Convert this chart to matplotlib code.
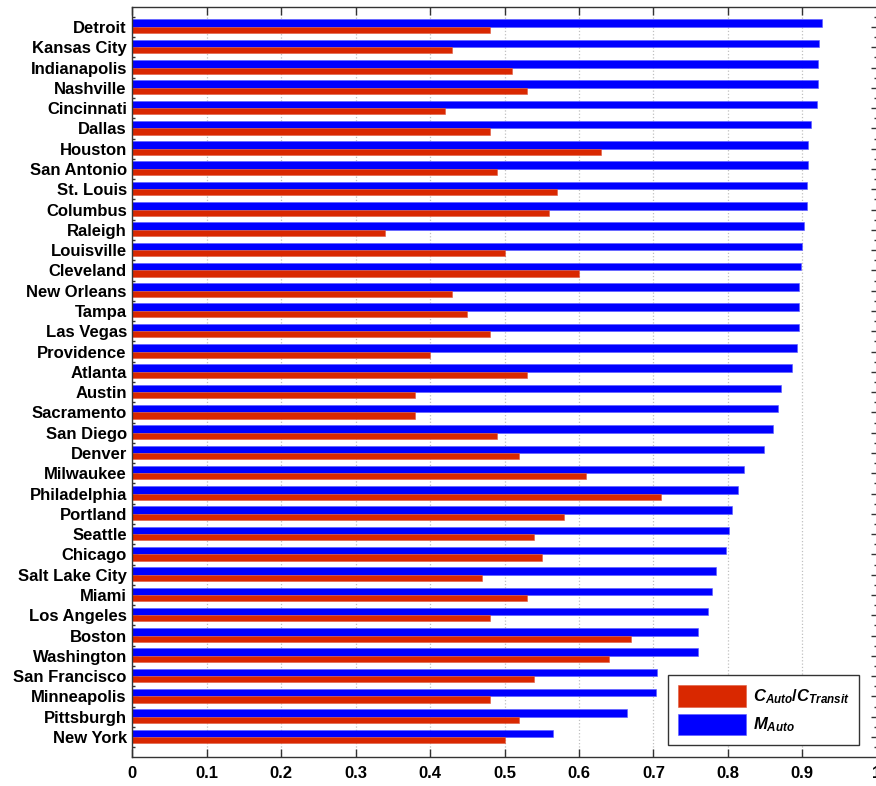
import numpy as np
import matplotlib
matplotlib.use('Agg')
import matplotlib.pyplot as plt
from matplotlib.ticker import FixedLocator

plt.rcParams['font.family'] = ['Liberation Sans', 'DejaVu Sans']
plt.rcParams['font.weight'] = 'bold'
plt.rcParams['mathtext.fontset'] = 'custom'
plt.rcParams['mathtext.it'] = 'Liberation Sans:italic:bold'
plt.rcParams['mathtext.rm'] = 'Liberation Sans:bold'

# cities, listed top to bottom
cities = ['Detroit', 'Kansas City', 'Indianapolis', 'Nashville', 'Cincinnati',
          'Dallas', 'Houston', 'San Antonio', 'St. Louis', 'Columbus', 'Raleigh',
          'Louisville', 'Cleveland', 'New Orleans', 'Tampa', 'Las Vegas',
          'Providence', 'Atlanta', 'Austin', 'Sacramento', 'San Diego', 'Denver',
          'Milwaukee', 'Philadelphia', 'Portland', 'Seattle', 'Chicago',
          'Salt Lake City', 'Miami', 'Los Angeles', 'Boston', 'Washington',
          'San Francisco', 'Minneapolis', 'Pittsburgh', 'New York']

# auto mode share
m_auto = [0.927, 0.922, 0.921, 0.921, 0.919, 0.911, 0.908, 0.908, 0.906,
          0.906, 0.902, 0.899, 0.898, 0.896, 0.896, 0.896, 0.893, 0.886,
          0.871, 0.867, 0.861, 0.848, 0.821, 0.813, 0.806, 0.801, 0.797,
          0.784, 0.779, 0.773, 0.760, 0.760, 0.705, 0.704, 0.665, 0.565]

# auto cost / transit cost
cost_ratio = [0.48, 0.43, 0.51, 0.53, 0.42, 0.48, 0.63, 0.49, 0.57,
              0.56, 0.34, 0.50, 0.60, 0.43, 0.45, 0.48, 0.40, 0.53,
              0.38, 0.38, 0.49, 0.52, 0.61, 0.71, 0.58, 0.54, 0.55,
              0.47, 0.53, 0.48, 0.67, 0.64, 0.54, 0.48, 0.52, 0.50]

xticks = [0, 0.1, 0.2, 0.3, 0.4, 0.5, 0.6, 0.7, 0.8, 0.9, 1]
xticklabels = ['0', '0.1', '0.2', '0.3', '0.4', '0.5', '0.6', '0.7',
               '0.8', '0.9', '1']

n = len(cities)
y = np.arange(n, 0, -1)

fig = plt.figure(figsize=(8.76, 7.86), dpi=100)
ax = fig.add_axes([0.15114, 0.03651, 0.84977, 0.95496])

bh_blue = 0.37
bh_red = 0.3
ax.barh(y, m_auto, height=bh_blue, align='edge', color='#0000ff',
        edgecolor='#5a5aff', linewidth=0.4, label=r'$M_{Auto}$')
ax.barh(y - bh_red, cost_ratio, height=bh_red, align='edge', color='#d92800',
        edgecolor='#e05a40', linewidth=0.4, label=r'$C_{Auto}$/$C_{Transit}$')

ax.set_xlim(0, 1)
ax.set_ylim(0, n + 1)
ax.set_xticks(xticks)
ax.set_xticklabels(xticklabels)
ax.set_yticks(y)
ax.set_yticklabels(cities)
ax.yaxis.set_minor_locator(FixedLocator(np.arange(0.5, n + 1, 1)))

ax.tick_params(axis='x', direction='in', length=5.5, width=1, top=True,
               labelsize=12, pad=6, color='#333333')
ax.tick_params(axis='y', which='major', direction='in', length=4.5, width=1,
               right=True, labelsize=12, pad=4, color='#333333')
ax.tick_params(axis='y', which='minor', direction='in', length=2.5, width=1,
               right=True, color='#333333')

for s in ax.spines.values():
    s.set_color('#333333')
    s.set_linewidth(1.0)

ax.set_axisbelow(True)
ax.xaxis.grid(True, linestyle=':', color='#c0c0c0', linewidth=0.9)

handles, labels = ax.get_legend_handles_labels()
leg = ax.legend(handles[::-1], labels[::-1], loc='lower right',
                bbox_to_anchor=(0.9765, 0.0164), borderaxespad=0,
                fontsize=12, handlelength=4.1, handleheight=1.6,
                handletextpad=0.4, labelspacing=0.4, borderpad=0.6,
                fancybox=False, framealpha=1, edgecolor='#333333')
leg.get_frame().set_linewidth(1.0)

fig.savefig('out.png', dpi=100)
